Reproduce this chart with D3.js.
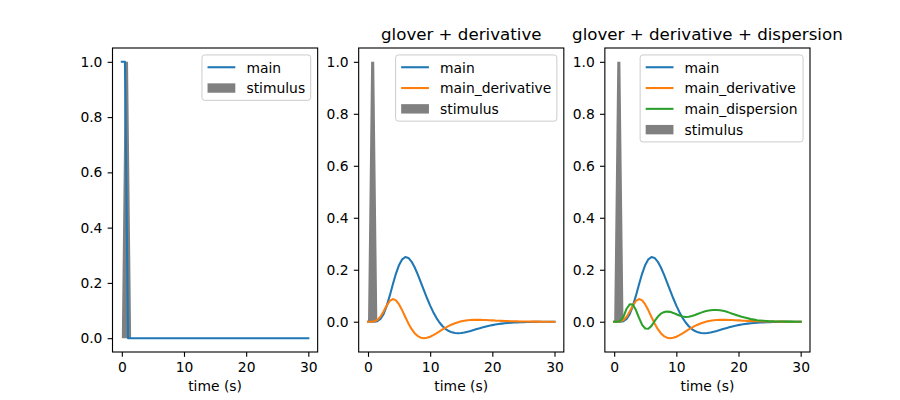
<!DOCTYPE html>
<html><head><meta charset="utf-8">
<script src="https://cdn.jsdelivr.net/npm/d3@7"></script>
<style>
body{margin:0;background:#fff}
svg{display:block}
text{font-family:"DejaVu Sans",sans-serif;fill:#000}
</style></head>
<body><svg id="c" width="900" height="400"></svg>
<script>
// ---------------- data ----------------
const frameTimes = [0,0.5,1,1.5,2,2.5,3,3.5,4,4.5,5,5.5,6,6.5,7,7.5,8,8.5,9,9.5,10,10.5,11,11.5,12,12.5,13,13.5,14,14.5,15,15.5,16,16.5,17,17.5,18,18.5,19,19.5,20,20.5,21,21.5,22,22.5,23,23.5,24,24.5,25,25.5,26,26.5,27,27.5,28,28.5,29,29.5,30];
const stimulus = [0,1,1,0,0,0,0,0,0,0,0,0,0,0,0,0,0,0,0,0,0,0,0,0,0,0,0,0,0,0,0,0,0,0,0,0,0,0,0,0,0,0,0,0,0,0,0,0,0,0,0,0,0,0,0,0,0,0,0,0,0];
const noneMain = [1,1,0,0,0,0,0,0,0,0,0,0,0,0,0,0,0,0,0,0,0,0,0,0,0,0,0,0,0,0,0,0,0,0,0,0,0,0,0,0,0,0,0,0,0,0,0,0,0,0,0,0,0,0,0,0,0,0,0,0,0];
const gloverMain = [0,0,0.0003,0.0024,0.0106,0.0294,0.0602,0.1003,0.1443,0.1854,0.2187,0.2402,0.2491,0.2455,0.2314,0.2095,0.1821,0.1517,0.1206,0.0903,0.0621,0.0369,0.0151,-0.0029,-0.0173,-0.0282,-0.0360,-0.0409,-0.0436,-0.0443,-0.0435,-0.0416,-0.0387,-0.0355,-0.0320,-0.0284,-0.0248,-0.0216,-0.0184,-0.0156,-0.0130,-0.0110,-0.0091,-0.0074,-0.0060,-0.0049,-0.0039,-0.0031,-0.0025,-0.0020,-0.0016,-0.0012,-0.0009,-0.0007,-0.0005,-0.0004,-0.0003,-0.0002,-0.0002,-0.0001,-0.0001];
const gloverDerivative = [0,0.0002,0.0014,0.0066,0.0192,0.0394,0.0621,0.0798,0.0872,0.0821,0.0665,0.0439,0.0184,-0.0064,-0.0277,-0.0440,-0.0552,-0.0614,-0.0633,-0.0618,-0.0576,-0.0517,-0.0447,-0.0372,-0.0297,-0.0227,-0.0161,-0.0105,-0.0057,-0.0017,0.0015,0.0039,0.0056,0.0066,0.0071,0.0074,0.0072,0.0068,0.0064,0.0059,0.0052,0.0044,0.0039,0.0034,0.0029,0.0024,0.0020,0.0016,0.0013,0.0010,0.0008,0.0007,0.0006,0.0005,0.0004,0.0003,0.0002,0.0002,0.0001,0.0001,0.0001];
const gloverDispersion = [0,0,0.003,0.020,0.050,0.067,0.066,0.045,0.015,-0.012,-0.026,-0.027,-0.016,0.002,0.019,0.031,0.037,0.039,0.038,0.034,0.029,0.024,0.020,0.018,0.019,0.022,0.026,0.031,0.035,0.039,0.042,0.044,0.045,0.045,0.044,0.042,0.039,0.035,0.031,0.027,0.023,0.019,0.016,0.013,0.010,0.008,0.006,0.005,0.004,0.003,0.002,0.0015,0.001,0.0008,0.0006,0.0005,0.0004,0.0003,0.0002,0.0001,0.0001];
const panelTitles = ["", "glover + derivative", "glover + derivative + dispersion"];
const xTicks = [0,10,20,30];
const yTicks = [0,0.2,0.4,0.6,0.8,1.0];
const xLabel = "time (s)";

// ---------------- layout ----------------
const svg = d3.select("#c");
const FS = 13.89;
const axW = 697.5/3.4;
const axTop = 48, axBottom = 352;
const colors = {main:"#1f77b4", main_derivative:"#ff7f0e", main_dispersion:"#2ca02c"};

const panels = [
  {title: panelTitles[0], series: [["main", noneMain]]},
  {title: panelTitles[1], series: [["main", gloverMain], ["main_derivative", gloverDerivative]]},
  {title: panelTitles[2], series: [["main", gloverMain], ["main_derivative", gloverDerivative], ["main_dispersion", gloverDispersion]]}
];

panels.forEach((p, i) => {
  const left = 112.5 + i*axW*1.2, right = left + axW;
  const g = svg.append("g");
  const xmin = d3.min(frameTimes), xmax = d3.max(frameTimes);
  const xr = xmax - xmin;
  const x = d3.scaleLinear().domain([xmin - 0.05*xr, xmax + 0.05*xr]).range([left, right]);
  const allY = stimulus.concat(...p.series.map(s => s[1]));
  const ymin = d3.min(allY), ymax = d3.max(allY), yr = ymax - ymin;
  const y = d3.scaleLinear().domain([ymin - 0.05*yr, ymax + 0.05*yr]).range([axBottom, axTop]);

  const cid = "clip" + i;
  svg.append("clipPath").attr("id", cid).append("rect")
    .attr("x", left).attr("y", axTop).attr("width", axW).attr("height", axBottom - axTop);
  const plot = g.append("g").attr("clip-path", `url(#${cid})`);

  const pts = frameTimes.map((t, k) => [t, stimulus[k]]);
  const line = d3.line().x(d => x(d[0])).y(d => y(d[1]));
  plot.append("path").attr("d", line(pts) + "Z")
    .attr("fill", "#808080").attr("stroke", "none");

  p.series.forEach(([name, vals]) => {
    plot.append("path").attr("d", line(frameTimes.map((t, k) => [t, vals[k]])))
      .attr("fill", "none").attr("stroke", colors[name]).attr("stroke-width", 2.08)
      .attr("stroke-linejoin", "round").attr("stroke-linecap", "square");
  });

  // axes
  const ax = g.append("g").attr("transform", `translate(0,${axBottom})`)
    .call(d3.axisBottom(x).tickValues(xTicks).tickFormat(d3.format("d")).tickSize(4.86).tickPadding(5.6).tickSizeOuter(0));
  const ay = g.append("g").attr("transform", `translate(${left},0)`)
    .call(d3.axisLeft(y).tickValues(yTicks).tickFormat(d3.format(".1f")).tickSize(4.86).tickPadding(5.2).tickSizeOuter(0));
  [ax, ay].forEach(a => {
    a.select(".domain").remove();
    a.selectAll("line").attr("stroke", "#000").attr("stroke-width", 1.11);
    a.selectAll("text").attr("font-size", FS).attr("font-family", "DejaVu Sans").attr("fill", "#000");
  });
  g.append("rect").attr("x", left).attr("y", axTop).attr("width", axW).attr("height", axBottom - axTop)
    .attr("fill", "none").attr("stroke", "#000").attr("stroke-width", 1.11);

  g.append("text").attr("x", (left + right)/2).attr("y", 390.5).attr("text-anchor", "middle")
    .attr("font-size", FS).text(xLabel);
  if (p.title) {
    g.append("text").attr("x", (left + right)/2).attr("y", 39.5).attr("text-anchor", "middle")
      .attr("font-size", 16.67).text(p.title);
  }

  // legend
  const entries = p.series.map(s => ({name: s[0], type: "line", color: colors[s[0]]}))
    .concat([{name: "stimulus", type: "patch", color: "#808080"}]);
  const lg = g.append("g");
  const box = lg.append("rect");
  const texts = entries.map(e => lg.append("text").attr("font-size", FS).text(e.name));
  const maxW = d3.max(texts, t => t.node().getComputedTextLength());
  const bp = 0.4*FS, hl = 2*FS, htp = 0.8*FS;
  const bw = bp*2 + hl + htp + maxW;
  const bRight = right - 0.5*FS, bTop = axTop + 0.5*FS;
  const bLeft = bRight - bw;
  const rowH = 20.8, firstRow = 12.3;
  const bh = firstRow*2 + (entries.length - 1)*rowH;
  box.attr("x", bLeft).attr("y", bTop).attr("width", bw).attr("height", bh).attr("rx", 2.8)
    .attr("fill", "#fff").attr("fill-opacity", 0.8).attr("stroke", "#cccccc").attr("stroke-width", 1);
  entries.forEach((e, k) => {
    const cy = bTop + firstRow + k*rowH;
    const hx = bLeft + bp;
    if (e.type === "line") {
      lg.append("line").attr("x1", hx).attr("x2", hx + hl).attr("y1", cy).attr("y2", cy)
        .attr("stroke", e.color).attr("stroke-width", 2.08);
    } else {
      lg.append("rect").attr("x", hx).attr("y", cy - 4.7).attr("width", hl).attr("height", 9.4)
        .attr("fill", e.color);
    }
    texts[k].attr("x", hx + hl + htp).attr("y", cy + 5.4);
    texts[k].raise();
  });
});
</script></body></html>
